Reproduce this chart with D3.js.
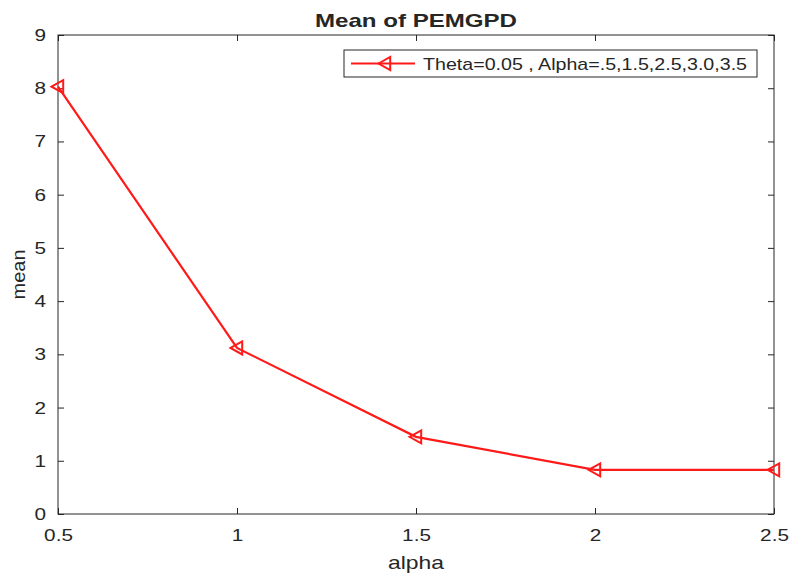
<!DOCTYPE html>
<html>
<head>
<meta charset="utf-8">
<script src="https://cdn.jsdelivr.net/npm/d3@7"></script>
<style>
  body { margin: 0; background: #fff; }
  text { font-family: "Liberation Sans", Arial, sans-serif; fill: #262626; }
</style>
</head>
<body>
<div id="chart"></div>
<script>
const alphaValues = [0.5, 1, 1.5, 2, 2.5];
const meanValues = [8.03, 3.12, 1.45, 0.83, 0.83];
const xTicks = [0.5, 1, 1.5, 2, 2.5];
const yTicks = [0, 1, 2, 3, 4, 5, 6, 7, 8, 9];
const legendLabel = "Theta=0.05 , Alpha=.5,1.5,2.5,3.0,3.5";

const width = 792, height = 576;
const margin = { top: 35, right: 18, bottom: 62, left: 58 };
const w = width - margin.left - margin.right;
const h = height - margin.top - margin.bottom;

const svg = d3.select("#chart").append("svg")
    .attr("width", width)
    .attr("height", height);

const g = svg.append("g")
    .attr("transform", `translate(${margin.left},${margin.top})`);

const x = d3.scaleLinear().domain([0.5, 2.5]).range([0, w]);
const y = d3.scaleLinear().domain([0, 9]).range([h, 0]);

// the reference text is a bit wider than Liberation Sans, stretch it
const stretch = (sel, k) => sel.each(function () {
    const len = this.getComputedTextLength();
    if (len > 0) d3.select(this).attr("textLength", len * k).attr("lengthAdjust", "spacingAndGlyphs");
});

// axes, ticks pointing inward
const axisStyle = sel => {
    sel.select(".domain").remove();
    sel.selectAll("line").attr("stroke", "#262626");
    sel.selectAll("text").style("font-size", "17px").attr("fill", "#262626").call(stretch, 1.22);
};
g.append("g").attr("transform", `translate(0,${h})`)
    .call(d3.axisBottom(x).tickValues(xTicks).tickFormat(d3.format("")).tickSizeInner(-6).tickPadding(15))
    .call(axisStyle);
g.append("g")
    .call(d3.axisTop(x).tickValues(xTicks).tickFormat("").tickSizeInner(-6))
    .call(axisStyle);
g.append("g")
    .call(d3.axisLeft(y).tickValues(yTicks).tickSizeInner(-6).tickPadding(12))
    .call(axisStyle);
g.append("g").attr("transform", `translate(${w},0)`)
    .call(d3.axisRight(y).tickValues(yTicks).tickFormat("").tickSizeInner(-6))
    .call(axisStyle);

// box
g.append("rect")
    .attr("width", w).attr("height", h)
    .attr("fill", "none").attr("stroke", "#262626").attr("stroke-width", 1);

const red = "#ff1a1a";
const pts = alphaValues.map((a, i) => [a, meanValues[i]]);
const line = d3.line().x(d => x(d[0])).y(d => y(d[1]));

g.append("path")
    .datum(pts)
    .attr("fill", "none")
    .attr("stroke", red)
    .attr("stroke-width", 2.2)
    .attr("d", line);

const tri = s => `M${-s},0L${s * 0.8},${-s}L${s * 0.8},${s}Z`;
g.selectAll(".mk").data(pts).enter().append("path")
    .attr("class", "mk")
    .attr("transform", d => `translate(${x(d[0])},${y(d[1])})`)
    .attr("d", tri(6.5))
    .attr("fill", "none").attr("stroke", red).attr("stroke-width", 2);

// title and labels
svg.append("text")
    .attr("x", margin.left + w / 2).attr("y", 27)
    .attr("text-anchor", "middle")
    .style("font-size", "19px").style("font-weight", "bold")
    .attr("fill", "#111")
    .attr("textLength", 202).attr("lengthAdjust", "spacingAndGlyphs")
    .text("Mean of PEMGPD");
svg.append("text")
    .attr("x", margin.left + w / 2).attr("y", 569)
    .attr("text-anchor", "middle")
    .style("font-size", "19px")
    .attr("textLength", 56).attr("lengthAdjust", "spacingAndGlyphs")
    .text("alpha");
svg.append("text")
    .attr("transform", `translate(25,${margin.top + h / 2}) rotate(-90)`)
    .attr("text-anchor", "middle")
    .style("font-size", "19px")
    .attr("textLength", 50).attr("lengthAdjust", "spacingAndGlyphs")
    .text("mean");

// legend
const lg = svg.append("g").attr("transform", "translate(344,50)");
lg.append("rect")
    .attr("width", 413).attr("height", 27)
    .attr("fill", "#fff").attr("stroke", "#262626").attr("stroke-width", 1);
lg.append("line")
    .attr("x1", 7).attr("x2", 71).attr("y1", 13.5).attr("y2", 13.5)
    .attr("stroke", red).attr("stroke-width", 2.2);
lg.append("path")
    .attr("transform", "translate(41,13.5)")
    .attr("d", tri(6.5))
    .attr("fill", "none").attr("stroke", red).attr("stroke-width", 2);
lg.append("text")
    .attr("x", 79).attr("y", 20)
    .style("font-size", "17px")
    .attr("textLength", 324).attr("lengthAdjust", "spacingAndGlyphs")
    .text(legendLabel);
</script>
</body>
</html>
